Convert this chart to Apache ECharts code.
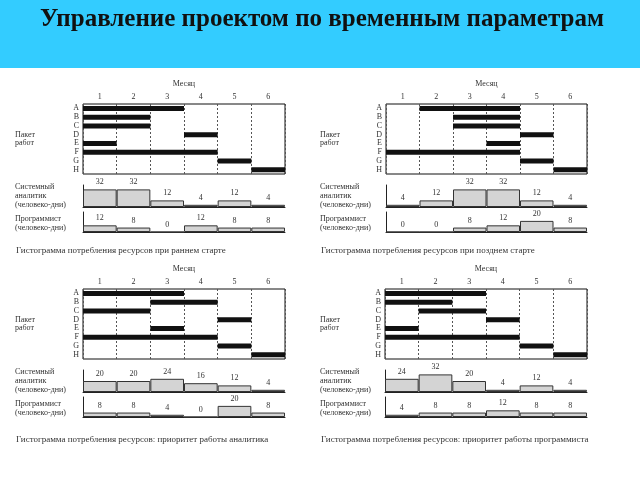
<!DOCTYPE html>
<html><head><meta charset="utf-8">
<script src="https://cdn.jsdelivr.net/npm/echarts@6/dist/echarts.min.js"></script>
<style>html,body{margin:0;padding:0;background:#fff}#c{width:640px;height:480px}</style>
</head><body><div id="c"></div>
<script>
const titleText = 'Управление проектом по временным параметрам';
const months = ['1','2','3','4','5','6'];
const tasks = ['A','B','C','D','E','F','G','H'];

// Panel 1: early start
const earlyStart = [0,0,0,3,0,0,4,5];
const earlyEnd   = [3,2,2,4,1,4,5,6];
const earlyAnalyst = [32,32,12,4,12,4];
const earlyProgrammer = [12,8,0,12,8,8];
const earlyCaption = 'Гистограмма потребления ресурсов при раннем старте';

// Panel 2: late start
const lateStart = [1,2,2,4,3,0,4,5];
const lateEnd   = [4,4,4,5,4,4,5,6];
const lateAnalyst = [4,12,32,32,12,4];
const lateProgrammer = [0,0,8,12,20,8];
const lateCaption = 'Гистограмма потребления ресурсов при позднем старте';

// Panel 3: analyst priority
const anStart = [0,2,0,4,2,0,4,5];
const anEnd   = [3,4,2,5,3,4,5,6];
const anAnalyst = [20,20,24,16,12,4];
const anProgrammer = [8,8,4,0,20,8];
const anCaption = 'Гистограмма потребления ресурсов: приоритет работы аналитика';

// Panel 4: programmer priority
const prStart = [0,0,1,3,0,0,4,5];
const prEnd   = [3,2,3,4,1,4,5,6];
const prAnalyst = [24,32,20,4,12,4];
const prProgrammer = [4,8,8,12,8,8];
const prCaption = 'Гистограмма потребления ресурсов: приоритет работы программиста';

const panels = [
  {start: earlyStart, end: earlyEnd, an: earlyAnalyst, pr: earlyProgrammer, cap: earlyCaption,
   left: 83, width: 202, top: 104, anBase: 207, prBase: 232, capY: 251, lx: 15},
  {start: lateStart, end: lateEnd, an: lateAnalyst, pr: lateProgrammer, cap: lateCaption,
   left: 386, width: 201, top: 104, anBase: 207, prBase: 232, capY: 251, lx: 320},
  {start: anStart, end: anEnd, an: anAnalyst, pr: anProgrammer, cap: anCaption,
   left: 83, width: 202, top: 289, anBase: 392, prBase: 417, capY: 440, lx: 15},
  {start: prStart, end: prEnd, an: prAnalyst, pr: prProgrammer, cap: prCaption,
   left: 385, width: 202, top: 289, anBase: 392, prBase: 417, capY: 440, lx: 320}
];

const serif = '"Liberation Serif", "DejaVu Serif", serif';
const txtColor = '#333';
const grid = [], xAxis = [], yAxis = [], series = [];
const graphic = [
  {type:'rect', shape:{x:0,y:0,width:640,height:68}, style:{fill:'#33CCFF'}, z:0},
  {type:'text', x:322, y:20, style:{text:titleText, font:'bold 25px ' + serif, fill:'#111', textAlign:'center', textVerticalAlign:'middle'}, z:1}
];

panels.forEach((p, i) => {
  const g0 = grid.length;
  const ganttH = 70;
  grid.push({left: p.left, width: p.width, top: p.top, height: ganttH, show: true, borderColor: '#111', borderWidth: 1, backgroundColor: 'transparent'});
  grid.push({left: p.left, width: p.width, top: p.anBase - 22, height: 22});
  grid.push({left: p.left, width: p.width, top: p.prBase - 20, height: 20});
  const x0 = xAxis.length, y0 = yAxis.length;
  xAxis.push({type:'category', gridIndex:g0, data:months, position:'top', boundaryGap:true,
    name:'Месяц', nameLocation:'middle', nameGap:16, nameTextStyle:{fontFamily:serif, fontSize:8, color:txtColor},
    axisLine:{show:false}, axisTick:{show:false}, splitLine:{show:false},
    axisLabel:{fontFamily:serif, fontSize:8, color:txtColor, margin:3, interval:0}});
  xAxis.push({type:'value', gridIndex:g0, min:0, max:6, interval:1, position:'bottom',
    axisLine:{show:false}, axisTick:{show:false}, axisLabel:{show:false},
    splitLine:{show:true, lineStyle:{type:[2,2], color:'#555', width:1}}});
  xAxis.push({type:'category', gridIndex:g0+1, data:months, axisLine:{lineStyle:{color:'#222'}}, axisTick:{show:false}, axisLabel:{show:false}});
  xAxis.push({type:'category', gridIndex:g0+2, data:months, axisLine:{lineStyle:{color:'#222'}}, axisTick:{show:false}, axisLabel:{show:false}});
  yAxis.push({type:'category', gridIndex:g0, data:tasks, inverse:true,
    axisLine:{show:false}, axisTick:{show:false}, splitLine:{show:false},
    axisLabel:{fontFamily:serif, fontSize:8, color:txtColor, margin:4, interval:0}});
  yAxis.push({type:'value', gridIndex:g0+1, min:0, max:40, axisLine:{show:true, lineStyle:{color:'#222'}}, axisTick:{show:false}, axisLabel:{show:false}, splitLine:{show:false}});
  yAxis.push({type:'value', gridIndex:g0+2, min:0, max:36, axisLine:{show:true, lineStyle:{color:'#222'}}, axisTick:{show:false}, axisLabel:{show:false}, splitLine:{show:false}});

  series.push({type:'bar', xAxisIndex:x0+1, yAxisIndex:y0, stack:'g'+i, barWidth:5, silent:true,
    itemStyle:{color:'transparent'}, data:p.start});
  series.push({type:'bar', xAxisIndex:x0+1, yAxisIndex:y0, stack:'g'+i, barWidth:5, silent:true,
    itemStyle:{color:'#111'}, data:p.end.map((e, k) => e - p.start[k])});
  const histStyle = {color:'#d4d4d4', borderColor:'#333', borderWidth:1};
  const lab = {show:true, position:'top', distance:3, fontFamily:serif, fontSize:8, color:txtColor};
  series.push({type:'bar', xAxisIndex:x0+2, yAxisIndex:y0+1, barWidth:'100%', itemStyle:histStyle, label:lab, data:p.an});
  series.push({type:'bar', xAxisIndex:x0+3, yAxisIndex:y0+2, barWidth:'100%', itemStyle:histStyle, label:lab, data:p.pr});

  const ts = (t, x, y, size) => ({type:'text', x:x, y:y, style:{text:t, font:(size||8)+'px ' + serif, fill:txtColor, textVerticalAlign:'middle'}});
  const gm = p.top + 31;
  graphic.push(ts('Пакет', p.lx, gm));
  graphic.push(ts('работ', p.lx, gm + 8));
  graphic.push(ts('Системный', p.lx, p.anBase - 20));
  graphic.push(ts('аналитик', p.lx, p.anBase - 11));
  graphic.push(ts('(человеко-дни)', p.lx, p.anBase - 2));
  graphic.push(ts('Программист', p.lx, p.prBase - 13));
  graphic.push(ts('(человеко-дни)', p.lx, p.prBase - 4));
  graphic.push(ts(p.cap, p.lx + 1, p.capY, 9));
});

const chart = echarts.init(document.getElementById('c'), null, {renderer:'canvas'});
chart.setOption({animation:false, backgroundColor:'#fff', grid, xAxis, yAxis, series, graphic});
</script></body></html>
